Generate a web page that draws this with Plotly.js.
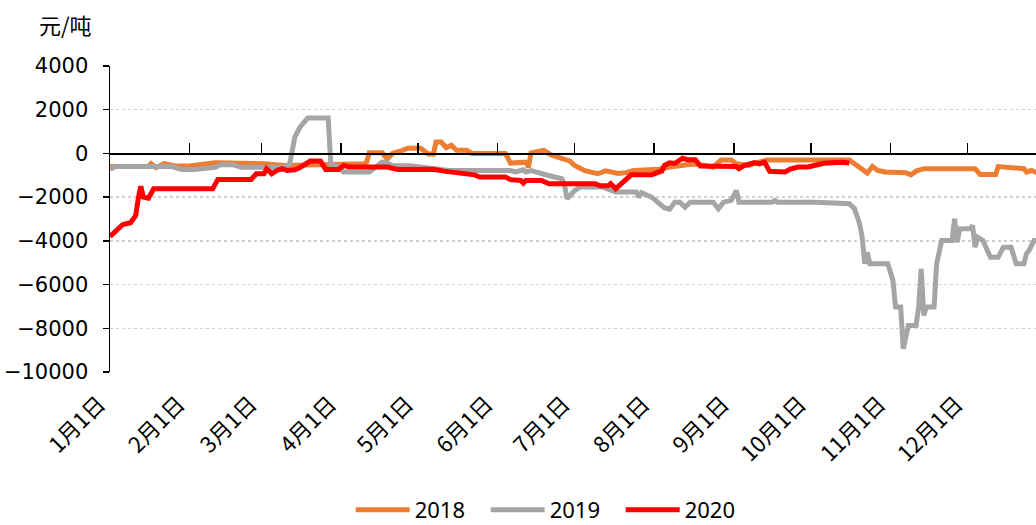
<!DOCTYPE html>
<html><head><meta charset="utf-8">
<script src="https://cdn.plot.ly/plotly-3.0.1.min.js"></script>
<style>html,body{margin:0;padding:0;overflow:hidden;background:#fff;width:1036px;height:525px}</style>
</head><body><div id="chart"></div>
<script>
// Values are 元/吨, dates are month-day of each year, drawn on a common calendar
const dates2018 = ["01-01","01-16","01-17","01-19","01-22","01-26","01-31","02-07","02-11","03-02","03-10","04-10","04-11","04-12","04-17","04-19","04-21","04-25","04-27","05-02","05-05","05-07","05-08","05-10","05-12","05-14","05-16","05-20","05-22","06-04","06-06","06-12","06-13","06-14","06-19","06-22","06-26","06-29","07-01","07-05","07-10","07-13","07-18","07-21","07-24","08-03","08-07","08-11","08-16","08-21","08-24","08-27","08-31","09-02","09-07","09-10","09-14","10-16","10-18","10-21","10-23","10-25","10-27","10-30","11-07","11-09","11-11","11-14","12-04","12-06","12-12","12-13","12-17","12-23","12-24","12-26","12-28","12-30"];
const values2018 = [-600,-600,-470,-650,-470,-560,-580,-520,-430,-470,-550,-470,-400,30,30,-250,0,140,240,240,-30,-30,520,520,260,370,140,140,0,0,-440,-400,-630,30,140,-80,-240,-340,-550,-790,-930,-800,-920,-880,-780,-720,-620,-560,-480,-550,-630,-300,-300,-470,-550,-420,-300,-300,-470,-750,-900,-600,-780,-850,-880,-980,-810,-700,-700,-960,-960,-600,-650,-700,-850,-780,-880,-880];

const dates2019 = ["01-01","01-03","01-25","01-29","02-03","02-11","02-13","02-18","02-21","03-10","03-12","03-14","03-16","03-19","03-27","03-28","03-31","04-02","04-12","04-15","04-17","04-19","04-21","04-28","05-07","05-13","06-06","06-08","06-11","06-12","06-14","06-18","06-23","06-26","06-27","06-28","07-01","07-03","07-12","07-17","07-25","07-26","07-27","07-31","08-05","08-07","08-09","08-11","08-13","08-15","08-24","08-26","08-28","08-31","09-02","09-03","09-16","09-17","09-18","10-03","10-10","10-16","10-18","10-20","10-21","10-22","10-23","10-24","10-31","11-02","11-03","11-05","11-06","11-08","11-11","11-12","11-13","11-14","11-15","11-18","11-19","11-21","11-25","11-26","11-27","11-28","12-02","12-03","12-04","12-05","12-07","12-10","12-13","12-15","12-18","12-20","12-23","12-24","12-25","12-27","12-31"];
const values2019 = [-730,-600,-600,-730,-730,-630,-520,-520,-630,-630,-470,750,1200,1620,1620,-470,-630,-850,-850,-580,-400,-430,-560,-560,-700,-780,-780,-850,-750,-850,-780,-930,-1080,-1160,-1390,-2070,-1700,-1540,-1540,-1770,-1770,-2000,-1800,-2000,-2490,-2550,-2230,-2230,-2460,-2230,-2230,-2530,-2230,-2150,-1700,-2230,-2230,-2150,-2230,-2230,-2280,-2300,-2530,-3220,-3830,-5050,-4520,-5050,-5050,-5810,-7030,-7030,-8940,-7870,-7870,-7030,-5280,-7410,-7030,-7030,-5050,-3980,-3980,-2990,-4060,-3450,-3450,-3300,-4290,-3830,-3980,-4750,-4750,-4290,-4290,-5050,-5050,-4590,-4440,-3980,-3980];

const dates2020 = ["01-01","01-03","01-06","01-09","01-11","01-12","01-13","01-14","01-16","01-18","02-10","02-12","02-25","02-27","03-02","03-03","03-05","03-07","03-09","03-11","03-14","03-16","03-18","03-20","03-24","03-26","03-31","04-02","04-04","04-19","04-23","05-07","05-11","05-15","05-19","05-23","05-25","06-04","06-06","06-10","06-11","06-12","06-18","06-21","07-09","07-11","07-14","07-15","07-17","07-19","07-21","07-23","07-31","08-04","08-05","08-07","08-09","08-11","08-12","08-14","08-17","08-19","08-25","08-29","08-30","09-02","09-03","09-05","09-09","09-11","09-13","09-15","09-21","09-23","09-26","09-30","10-06","10-10","10-13","10-16"];
const values2020 = [-3800,-3600,-3250,-3170,-2850,-2070,-1500,-2000,-2050,-1620,-1620,-1190,-1190,-930,-930,-700,-930,-780,-700,-780,-750,-650,-500,-350,-350,-730,-730,-550,-620,-620,-730,-720,-810,-860,-930,-980,-1080,-1080,-1200,-1240,-1360,-1240,-1240,-1390,-1390,-1480,-1480,-1380,-1620,-1390,-1150,-980,-980,-800,-550,-430,-460,-300,-220,-290,-290,-580,-600,-600,-560,-600,-700,-560,-420,-480,-400,-820,-850,-720,-620,-620,-450,-400,-400,-440];

const seriesNames = ["2018","2019","2020"];
const seriesColors = ["#ED7D31","#A5A5A5","#FF0000"];
const monthTicks = ["01-01","02-01","03-01","04-01","05-01","06-01","07-01","08-01","09-01","10-01","11-01","12-01"];
const monthLabels = ["1月1日","2月1日","3月1日","4月1日","5月1日","6月1日","7月1日","8月1日","9月1日","10月1日","11月1日","12月1日"];
const yTicks = [-10000,-8000,-6000,-4000,-2000,0,2000,4000];
const unitLabel = "元/吨";

const BASE = 2001;
const d = md => BASE + "-" + md;
const allDates = [dates2018, dates2019, dates2020];
const allValues = [values2018, values2019, values2020];

const traces = seriesNames.map((n, i) => ({
  type: "scatter", mode: "lines", name: n,
  x: allDates[i].map(d), y: allValues[i],
  line: {color: seriesColors[i], width: 5},
  xaxis: "x", yaxis: "y"
}));
traces.push({type:"scatter", mode:"lines", x:[], y:[], xaxis:"x2", yaxis:"y", showlegend:false, hoverinfo:"skip"});

const xRange = [d("01-01"), (BASE+1) + "-01-01"];
const yRange = [-10000, 4000];
const zeroPos = (0 - yRange[0]) / (yRange[1] - yRange[0]);
const yTickText = yTicks.map(v => v < 0 ? "\u2212" + Math.abs(v) : String(v));

const layout = {
  width: 1047, height: 525,
  margin: {l: 110, r: 0, t: 66, b: 153, autoexpand: false},
  paper_bgcolor: "#fff", plot_bgcolor: "#fff",
  font: {family: "Noto Sans, Noto Sans CJK SC, sans-serif", color: "#000"},
  showlegend: true,
  legend: {orientation: "h", x: 0.473, xanchor: "center", y: -0.451, yanchor: "middle",
           font: {size: 22, family: "Noto Sans, sans-serif"}, itemwidth: 54,
           entrywidth: 66, entrywidthmode: "pixels"},
  xaxis: {type: "date", range: xRange, tickmode: "array",
          tickvals: monthTicks.map(d), ticktext: monthLabels, tickangle: -45,
          tickfont: {size: 22, family: "Noto Sans CJK SC, sans-serif"},
          showgrid: false, zeroline: false, showline: false, ticks: "",
          ticklabelstandoff: 14, ticklabelshift: -11, automargin: false},
  xaxis2: {type: "date", matches: "x", overlaying: "x", anchor: "free", position: zeroPos,
           side: "bottom", tickmode: "array", tickvals: monthTicks.map(d),
           showticklabels: false, ticks: "inside", ticklen: 10, tickwidth: 1.5, tickcolor: "#000",
           showline: true, linecolor: "#000", linewidth: 1.5, showgrid: false, zeroline: false},
  yaxis: {range: yRange, tickmode: "array", tickvals: yTicks, ticktext: yTickText,
          showline: true, linecolor: "#000", linewidth: 1.5,
          ticks: "outside", ticklen: 6, tickwidth: 1.5, tickcolor: "#000",
          showgrid: true, gridcolor: "#D0D0D0", gridwidth: 1.5, griddash: "dot",
          zeroline: false, tickfont: {size: 21, family: "DejaVu Sans, sans-serif"},
          ticklabelstandoff: 10, automargin: false},
  annotations: [{text: unitLabel, xref: "paper", yref: "paper", x: -0.047, y: 1.138,
                 xanchor: "center", yanchor: "middle", showarrow: false,
                 font: {size: 22, family: "Noto Sans CJK SC, sans-serif"}}]
};

Plotly.newPlot("chart", traces, layout, {staticPlot: true, displayModeBar: false});
</script></body></html>
